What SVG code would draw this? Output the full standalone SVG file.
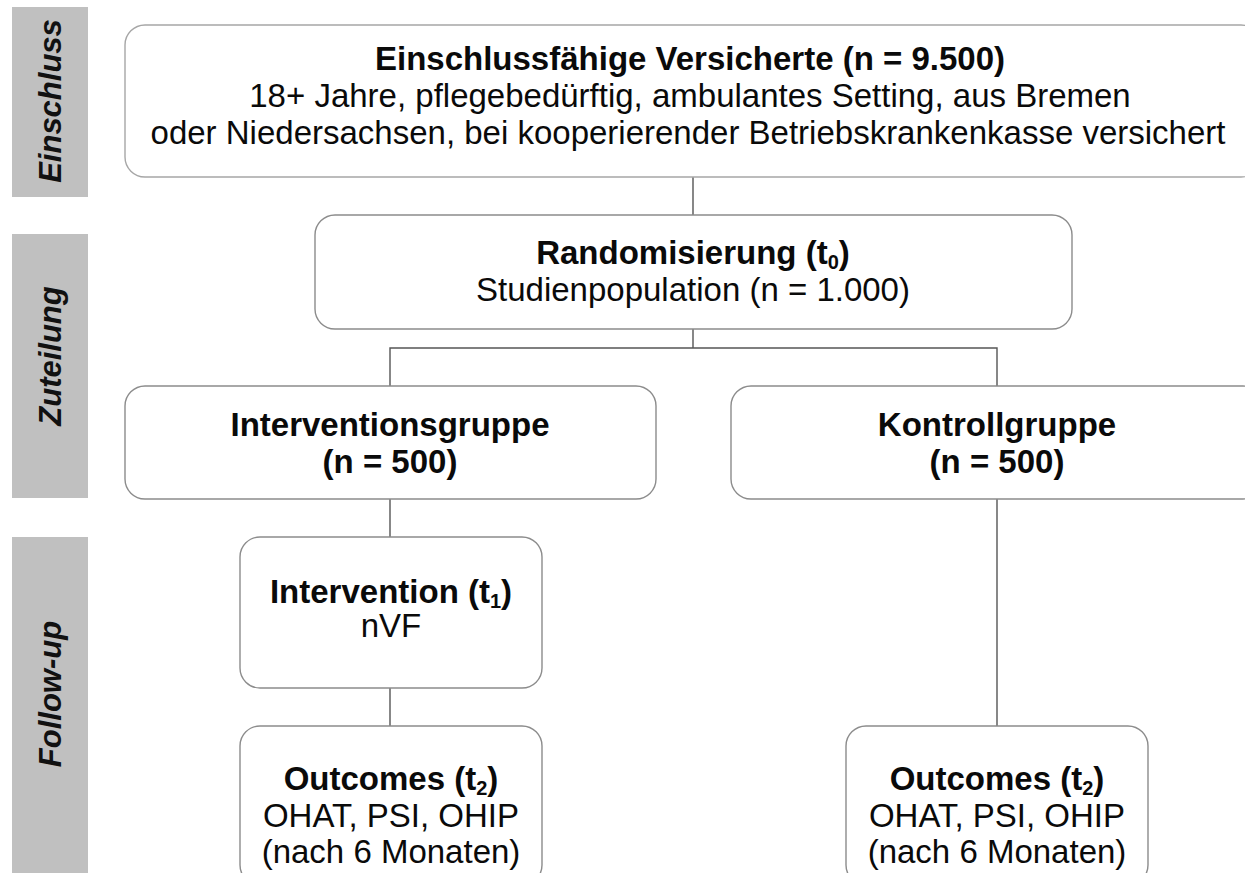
<svg xmlns="http://www.w3.org/2000/svg" width="1245" height="873" viewBox="0 0 1245 873">
<style>
.bar{fill:#c0c0c0}
.lbl{font-family:"Liberation Sans",Arial,sans-serif;font-weight:bold;font-style:italic;font-size:31px;fill:#111;text-anchor:middle}
.box{fill:#fff;stroke:#8c8c8c;stroke-width:1.4}
.t{font-family:"Liberation Sans",Arial,sans-serif;font-size:33px;fill:#0a0a0a;text-anchor:middle}
.b{font-weight:bold}
.sub{font-size:20px}
.con{fill:none;stroke:#555;stroke-width:1.4}
</style>
<rect width="1245" height="873" fill="#fff"/>
<g id="phase-einschluss">
<rect class="bar" x="12" y="7" width="76" height="190"/>
<text class="lbl" transform="translate(61,101) rotate(-90)">Einschluss</text>
</g>
<g id="phase-zuteilung">
<rect class="bar" x="12" y="234" width="76" height="264"/>
<text class="lbl" transform="translate(61,356) rotate(-90)">Zuteilung</text>
</g>
<g id="phase-followup">
<rect class="bar" x="12" y="537" width="76" height="340"/>
<text class="lbl" transform="translate(61,694) rotate(-90)">Follow-up</text>
</g>
<g id="connectors">
<path class="con" d="M693,177 V215"/>
<path class="con" d="M693,329 V348"/>
<path class="con" d="M390,386 V348 H997 V386"/>
<path class="con" d="M390,499 V537"/>
<path class="con" d="M390,688 V726"/>
<path class="con" d="M997,499 V726"/>
</g>
<g id="node-einschluss">
<rect class="box" x="125" y="25" width="1136" height="152" rx="20" style="stroke:#a6a6a6"/>
<text class="t b" x="690" y="70">Einschlussfähige Versicherte (n = 9.500)</text>
<text class="t" x="690" y="107">18+ Jahre, pflegebedürftig, ambulantes Setting, aus Bremen</text>
<text class="t" x="688" y="144">oder Niedersachsen, bei kooperierender Betriebskrankenkasse versichert</text>
</g>
<g id="node-randomisierung">
<rect class="box" x="315" y="215" width="757" height="114" rx="20"/>
<text class="t b" x="693" y="264">Randomisierung (t<tspan class="sub" dy="5">0</tspan><tspan dy="-5">)</tspan></text>
<text class="t" x="693" y="301">Studienpopulation (n = 1.000)</text>
</g>
<g id="node-interventionsgruppe">
<rect class="box" x="125" y="386" width="531" height="113" rx="20"/>
<text class="t b" x="390" y="436">Interventionsgruppe</text>
<text class="t b" x="390" y="473">(n = 500)</text>
</g>
<g id="node-kontrollgruppe">
<rect class="box" x="731" y="386" width="532" height="113" rx="20"/>
<text class="t b" x="997" y="436">Kontrollgruppe</text>
<text class="t b" x="997" y="473">(n = 500)</text>
</g>
<g id="node-intervention">
<rect class="box" x="240" y="537" width="302" height="151" rx="20"/>
<text class="t b" x="391" y="603">Intervention (t<tspan class="sub" dy="5">1</tspan><tspan dy="-5">)</tspan></text>
<text class="t" x="391" y="637">nVF</text>
</g>
<g id="node-outcomes-ig">
<rect class="box" x="240" y="726" width="302" height="159" rx="20"/>
<text class="t b" x="391" y="790">Outcomes (t<tspan class="sub" dy="5">2</tspan><tspan dy="-5">)</tspan></text>
<text class="t" x="391" y="827">OHAT, PSI, OHIP</text>
<text class="t" x="391" y="863">(nach 6 Monaten)</text>
</g>
<g id="node-outcomes-kg">
<rect class="box" x="846" y="726" width="302" height="159" rx="20"/>
<text class="t b" x="997" y="790">Outcomes (t<tspan class="sub" dy="5">2</tspan><tspan dy="-5">)</tspan></text>
<text class="t" x="997" y="827">OHAT, PSI, OHIP</text>
<text class="t" x="997" y="863">(nach 6 Monaten)</text>
</g>
</svg>
